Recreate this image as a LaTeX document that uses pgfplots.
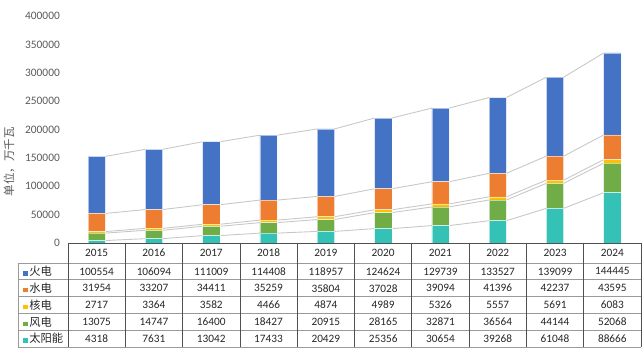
\documentclass[border=0pt]{standalone}
\usepackage{pgfplots}
\usepackage{pgfplotstable}
\pgfplotsset{compat=1.18}
\usepackage{fontspec}
\setmainfont{Carlito}
\newfontfamily\cjk{Noto Sans CJK SC}
\definecolor{cHuo}{HTML}{4472C4}
\definecolor{cShui}{HTML}{ED7D31}
\definecolor{cHe}{HTML}{FFC000}
\definecolor{cFeng}{HTML}{70AD47}
\definecolor{cTai}{HTML}{33C2B5}
\definecolor{sline}{HTML}{C8C8C8}
\definecolor{tickc}{HTML}{595959}
\definecolor{vgrid}{HTML}{505050}
\definecolor{hgrid}{HTML}{9A9A9A}

\pgfplotstableread{
x year s w n h f
0 2015 4318 13075 2717 31954 100554
1 2016 7631 14747 3364 33207 106094
2 2017 13042 16400 3582 34411 111009
3 2018 17433 18427 4466 35259 114408
4 2019 20429 20915 4874 35804 118957
5 2020 25356 28165 4989 37028 124624
6 2021 30654 32871 5326 39094 129739
7 2022 39268 36564 5557 41396 133527
8 2023 61048 44144 5691 42237 139099
9 2024 88666 52068 6083 43595 144445
}\data

\newcommand\getrow[1]{%
  \pgfplotstablegetelem{#1}{s}\of\data \edef\vS{\pgfplotsretval}%
  \pgfplotstablegetelem{#1}{w}\of\data \edef\vW{\the\numexpr\vS+\pgfplotsretval\relax}%
  \pgfplotstablegetelem{#1}{n}\of\data \edef\vN{\the\numexpr\vW+\pgfplotsretval\relax}%
  \pgfplotstablegetelem{#1}{h}\of\data \edef\vH{\the\numexpr\vN+\pgfplotsretval\relax}%
  \pgfplotstablegetelem{#1}{f}\of\data \edef\vF{\the\numexpr\vH+\pgfplotsretval\relax}%
}
\newcommand\rowlabel[3]{%
  \node[anchor=west, inner sep=0pt, font=\fontsize{11.3}{13}\selectfont, text=black!85]
    at ([xshift=-44.7pt]axis cs:-0.5,#1) {\textcolor{#2}{\rule{4.5pt}{4.5pt}}\hspace{1.3pt}{\cjk #3}};%
}

\begin{document}
\begin{tikzpicture}
\useasboundingbox (0,0) rectangle (642pt,352pt);
% series lines
\begin{axis}[at={(68pt,109pt)}, anchor=south west, width=573pt, height=227pt,
  scale only axis, xmin=-0.5, xmax=9.5, ymin=0, ymax=400000, hide axis, clip=false]
\pgfplotsinvokeforeach{0,...,8}{
  \getrow{#1}%
  \let\aS\vS \let\aW\vW \let\aN\vN \let\aH\vH \let\aF\vF
  \pgfmathtruncatemacro\nx{#1+1}%
  \getrow{\nx}%
  \pgfmathsetmacro\xa{#1+0.151}%
  \pgfmathsetmacro\xb{#1+0.849}%
  \edef\tmp{%
    \noexpand\addplot[sline, line width=0.9pt] coordinates {(\xa,\aS) (\xb,\vS)};
    \noexpand\addplot[sline, line width=0.9pt] coordinates {(\xa,\aW) (\xb,\vW)};
    \noexpand\addplot[sline, line width=0.9pt] coordinates {(\xa,\aN) (\xb,\vN)};
    \noexpand\addplot[sline, line width=0.9pt] coordinates {(\xa,\aH) (\xb,\vH)};
    \noexpand\addplot[sline, line width=0.9pt] coordinates {(\xa,\aF) (\xb,\vF)};
  }\tmp
}
\end{axis}
% bars
\begin{axis}[at={(68pt,109pt)}, anchor=south west, width=573pt, height=227pt,
  scale only axis, xmin=-0.5, xmax=9.5, ymin=0, ymax=400000,
  ybar stacked, bar width=17.3pt,
  axis y line*=left, axis x line*=bottom,
  axis line style={draw=none},
  xtick=\empty, ytick={0,50000,...,400000}, major tick length=0,
  scaled y ticks=false,
  yticklabel style={/pgf/number format/fixed, /pgf/number format/1000 sep={},
    /pgf/number format/assume math mode=true, anchor=east, inner sep=0pt, xshift=-8pt,
    font=\fontsize{11.4}{13}\selectfont, text=tickc},
  clip=false]
\addplot[fill=cTai, draw=white, draw opacity=0.55, line width=0.6pt] table[x=x,y=s]{\data};
\addplot[fill=cFeng, draw=white, draw opacity=0.55, line width=0.6pt] table[x=x,y=w]{\data};
\addplot[fill=cHe, draw=white, draw opacity=0.55, line width=0.6pt] table[x=x,y=n]{\data};
\addplot[fill=cShui, draw=white, draw opacity=0.55, line width=0.6pt] table[x=x,y=h]{\data};
\addplot[fill=cHuo, draw=white, draw opacity=0.55, line width=0.6pt] table[x=x,y=f]{\data};
\end{axis}
% data table
\begin{axis}[at={(68pt,5pt)}, anchor=south west, width=573pt, height=104pt,
  scale only axis, xmin=-0.5, xmax=9.5, ymin=0, ymax=104, y dir=reverse,
  hide axis, clip=false,
  nodes near coords style={anchor=center, inner sep=0pt, font=\fontsize{11.3}{13}\selectfont, text=black!85}]
\pgfplotsinvokeforeach{20,36.8,53.6,70.4,87.2,104}{
  \draw[hgrid, line width=0.8pt] ([xshift=-50pt]axis cs:-0.5,#1) -- (axis cs:9.5,#1);
}
\draw[vgrid, line width=0.8pt] (axis cs:-0.5,0) -- (axis cs:9.5,0);
\pgfplotsinvokeforeach{-0.5,0.5,1.5,2.5,3.5,4.5,5.5,6.5,7.5,8.5,9.5}{
  \draw[vgrid, line width=0.8pt] (axis cs:#1,0) -- (axis cs:#1,104);
}
\draw[hgrid, line width=0.8pt] ([xshift=-50pt]axis cs:-0.5,20) -- ([xshift=-50pt]axis cs:-0.5,104);
\addplot[draw=none, nodes near coords, point meta=explicit symbolic] table[x=x, y expr=10, meta=year]{\data};
\addplot[draw=none, nodes near coords, point meta=explicit symbolic] table[x=x, y expr=28.4, meta=f]{\data};
\addplot[draw=none, nodes near coords, point meta=explicit symbolic] table[x=x, y expr=45.2, meta=h]{\data};
\addplot[draw=none, nodes near coords, point meta=explicit symbolic] table[x=x, y expr=62, meta=n]{\data};
\addplot[draw=none, nodes near coords, point meta=explicit symbolic] table[x=x, y expr=78.8, meta=w]{\data};
\addplot[draw=none, nodes near coords, point meta=explicit symbolic] table[x=x, y expr=95.6, meta=s]{\data};
\rowlabel{28.4}{cHuo}{火电}
\rowlabel{45.2}{cShui}{水电}
\rowlabel{62}{cHe}{核电}
\rowlabel{78.8}{cFeng}{风电}
\rowlabel{95.6}{cTai}{太阳能}
\end{axis}
\node[rotate=90, inner sep=0pt, font=\fontsize{11.5}{13}\selectfont, text=tickc] at (9pt,190pt) {\cjk 单位，万千瓦};
\end{tikzpicture}
\end{document}
